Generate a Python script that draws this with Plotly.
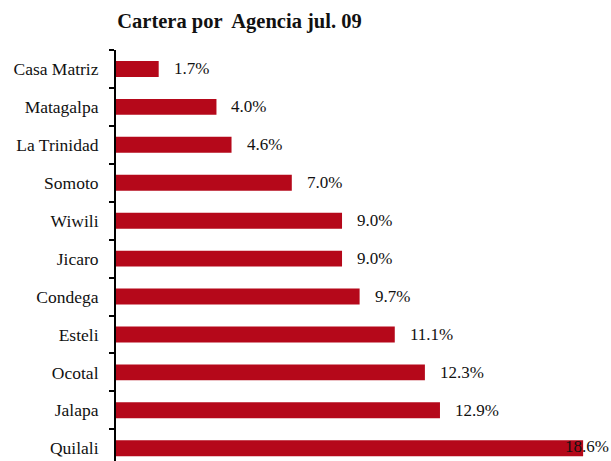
import plotly.graph_objects as go

# Portfolio share by branch, July 2009
agencias = ["Casa Matriz", "Matagalpa", "La Trinidad", "Somoto", "Wiwili", "Jicaro",
            "Condega", "Esteli", "Ocotal", "Jalapa", "Quilali"]
cartera_pct = [1.7, 4.0, 4.6, 7.0, 9.0, 9.0, 9.7, 11.1, 12.3, 12.9, 18.6]
etiquetas = [f"{v:.1f}%" for v in cartera_pct]

ROJO = "#B5081A"
FUENTE = "Liberation Serif"

fig = go.Figure(
    go.Bar(
        x=cartera_pct,
        y=agencias,
        orientation="h",
        marker=dict(color=ROJO, line=dict(width=0)),
        width=0.42,
        hoverinfo="skip",
    )
)

# Value labels to the right of each bar; the widest one is kept inside the frame
x_max = 19.71
annotations = []
for nombre, v, txt in zip(agencias, cartera_pct, etiquetas):
    if v == max(cartera_pct):
        annotations.append(dict(x=1, xref="paper", y=nombre, yref="y", text=txt,
                                xanchor="right", yanchor="middle", showarrow=False,
                                yshift=2, font=dict(family=FUENTE, size=17, color="#111")))
    else:
        annotations.append(dict(x=v, xref="x", y=nombre, yref="y", text=txt,
                                xanchor="left", yanchor="middle", showarrow=False,
                                xshift=13, font=dict(family=FUENTE, size=17, color="#111")))

fig.update_layout(
    width=611,
    height=461,
    margin=dict(l=116, r=0, t=50, b=0),
    paper_bgcolor="white",
    plot_bgcolor="white",
    showlegend=False,
    title=dict(text="<b>Cartera por  Agencia jul. 09</b>", xref="container", yref="container",
               x=239.5 / 611, y=1 - 21 / 461, xanchor="center", yanchor="middle",
               font=dict(family=FUENTE, size=20.5, color="#111")),
    xaxis=dict(range=[0, x_max], showgrid=False, zeroline=False, showline=False,
               showticklabels=False, ticks=""),
    yaxis=dict(type="category", categoryorder="array", categoryarray=agencias,
               range=[10.336, -0.5], showgrid=False, zeroline=False,
               showline=True, linecolor="black", linewidth=2,
               ticks="outside", tickson="boundaries", ticklen=5, tickwidth=1.5,
               tickcolor="black", ticklabelstandoff=12,
               tickfont=dict(family=FUENTE, size=17.5, color="#111")),
    annotations=annotations,
)

fig.write_html("out.html")
